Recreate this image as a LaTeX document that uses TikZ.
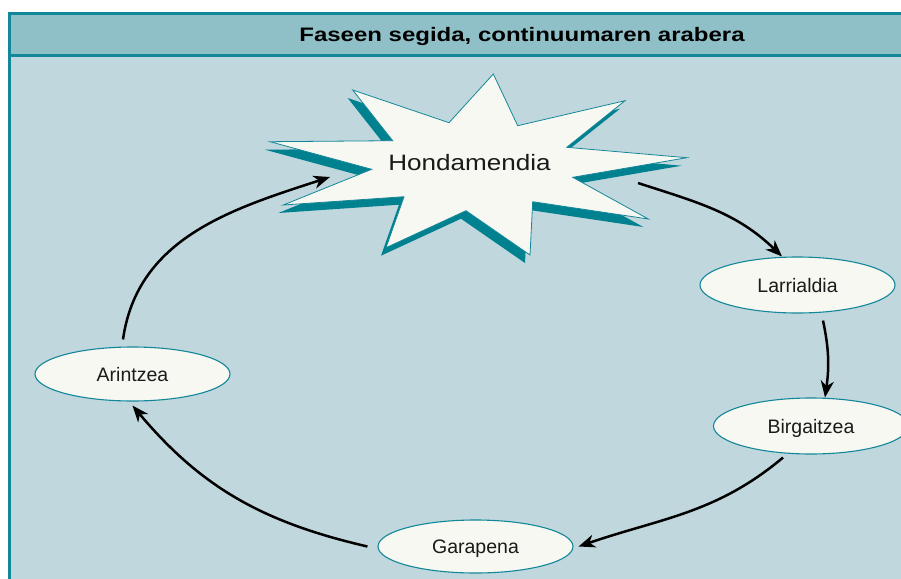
\documentclass[tikz,border=0pt]{standalone}
\usepackage{fontspec}
\setmainfont{Liberation Sans}
\usetikzlibrary{shapes.geometric,arrows.meta,calc}
\definecolor{frameteal}{HTML}{13879A}
\definecolor{titlefill}{HTML}{8FC0C7}
\definecolor{bodyfill}{HTML}{C0D7DD}
\definecolor{starshadow}{HTML}{00818F}
\definecolor{paper}{HTML}{F7F8F1}
\definecolor{ink}{HTML}{1A1A1A}
\tikzset{
  phase/.style={ellipse, draw=frameteal, line width=1.1pt, fill=paper, inner sep=0pt,
    minimum width=195pt, text=ink, font=\fontsize{19.5}{22}\selectfont,
    text height=14pt, text depth=0pt},
  flow/.style={draw=black, line width=2.5pt,
    -{Stealth[length=16.5pt,width=13pt,inset=5pt]}},
}
\begin{document}
\begin{tikzpicture}[x=1pt,y=1pt]
\useasboundingbox (0,0) rectangle (901,-578);
\clip (0,0) rectangle (901,-578);
% frame
\fill[bodyfill] (9.5,-13.5) rectangle (910,-590);
\fill[titlefill] (9.5,-13.5) rectangle (910,-55.5);
\draw[frameteal, line width=3pt] (910,-55.5) -- (9.5,-55.5);
\draw[frameteal, line width=3pt] (9.5,-590) -- (9.5,-13.5) -- (910,-13.5);
\node[font=\bfseries\fontsize{19.5}{23}\selectfont, xscale=1.23, anchor=base, text=black, inner sep=0pt]
  (title) at (522,-41.7) {Faseen segida, continuumaren arabera};
% star shadow
\fill[starshadow, shift={(-5,-8)}]
  (493.3,-74) -- (517.7,-125.7) -- (625,-100.7) -- (566.7,-147.3) -- (686.7,-157.7) --
  (572.7,-177.3) -- (648.3,-219) -- (532.7,-201.7) -- (530,-255) -- (466,-210.7) --
  (386,-247.7) -- (404,-196.7) -- (283.3,-205) -- (371.7,-169.3) -- (270,-141.7) --
  (392.7,-140.7) -- (352.7,-90) -- (449,-122.7) -- cycle;
% star
\filldraw[fill=paper, draw=frameteal, line width=0.8pt]
  (493.3,-74) -- (517.7,-125.7) -- (625,-100.7) -- (566.7,-147.3) -- (686.7,-157.7) --
  (572.7,-177.3) -- (648.3,-219) -- (532.7,-201.7) -- (530,-255) -- (466,-210.7) --
  (386,-247.7) -- (404,-196.7) -- (283.3,-205) -- (371.7,-169.3) -- (270,-141.7) --
  (392.7,-140.7) -- (352.7,-90) -- (449,-122.7) -- cycle;
\node[font=\fontsize{22.3}{26}\selectfont, xscale=1.17, anchor=base, text=ink, inner sep=0pt]
  (hond) at (469.5,-170) {Hondamendia};
\coordinate (starE) at (638,-183);
\coordinate (starW) at (330,-177);
% phases
\node[phase, minimum height=56pt] (lar) at (797.5,-285) {Larrialdia};
\node[phase, minimum height=56pt] (bir) at (811,-426) {Birgaitzea};
\node[phase, minimum height=53pt] (gar) at (475.5,-546.5) {Garapena};
\node[phase, minimum height=54pt] (ari) at (132.5,-374) {Arintzea};
% connectors
\draw[flow] (starE) to[out=-18,in=136] ([xshift=-15.5pt]lar.north);
\draw[flow] ([xshift=25.5pt,yshift=-7pt]lar.south) to[out=-78,in=82] ([xshift=14pt]bir.north);
\draw[flow] ([xshift=-28pt,yshift=-3pt]bir.south) to[out=-140,in=19] ([xshift=5pt]gar.east);
\draw[flow] ([xshift=-10pt]gar.west) to[out=167,in=-50] ([yshift=-4pt]ari.south);
\draw[flow] ([xshift=-9.5pt,yshift=7pt]ari.north) to[out=82,in=198] (starW);
\end{tikzpicture}
\end{document}
